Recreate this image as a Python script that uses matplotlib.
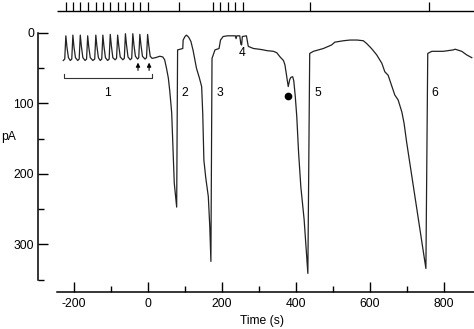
import matplotlib.pyplot as plt

plt.rcParams.update({
    "font.family": ["Liberation Sans", "DejaVu Sans"],
    "font.size": 8.7,
    "axes.unicode_minus": False,
    "axes.linewidth": 1.1,
    "xtick.direction": "in",
    "ytick.direction": "in",
})

# membrane current trace (time in s, current in pA, downward = inward)
t_trace = [
    -229, -225, -222, -219, -215, -210,
    -206, -203, -200, -196, -190,
    -186, -183, -180, -176, -170,
    -166, -163, -160, -156, -149,
    -144, -141, -138, -134, -129,
    -125, -122, -119, -115, -109,
    -105, -102, -99, -95, -89,
    -85, -82, -79, -75, -68,
    -64, -61, -58, -54, -48,
    -44, -41, -38, -34, -28,
    -25, -22, -19, -15, -8,
    -4, -1, 2, 6, 11,
    20, 32, 40, 45, 50, 55, 59, 64, 71, 77.5,
    80, 94, 95, 100, 104, 110, 116, 122, 131, 139, 145, 148, 151, 156, 163, 167, 170,
    173, 181, 192, 196, 203, 215, 226, 236, 238, 240, 248, 251, 253, 255, 266, 271,
    285, 300, 312, 321, 339, 348, 357, 366, 370, 375, 379, 383, 386, 391, 394, 398,
    402, 407, 413, 422, 432,
    437, 447, 474, 496, 505, 528, 546, 565, 582, 591, 604, 618, 632, 640, 649, 658,
    667, 676, 686, 692, 699, 712, 730, 744, 751,
    756, 767, 798, 825, 830, 848, 861, 875,
]
pa_trace = [
    39, 37, 4, 20, 35, 39,
    37, 3, 20, 35, 39,
    37, 3, 19, 35, 39,
    37, 4, 20, 35, 39,
    37, 3, 19, 35, 39,
    37, 3, 19, 35, 39,
    37, 2, 18, 35, 38,
    36, 3, 18, 34, 38,
    36, 1, 17, 34, 38,
    36, 1, 17, 33, 37,
    35, 2, 17, 33, 37,
    35, 2, 17, 33, 36,
    35, 33, 34, 38, 50, 64, 83, 113, 213, 247,
    24, 22, 10, 5, 3, 6, 12, 25, 50, 64, 76, 115, 180, 205, 232, 275, 324,
    36, 24, 22, 10, 5, 4, 4, 4, 8, 4, 4, 16, 17, 5, 4, 19,
    22, 23, 24, 25, 26, 28, 34, 39, 45, 62, 76, 66, 63, 62, 68, 90,
    118, 170, 218, 265, 341,
    29, 26, 22, 17, 13, 11, 10, 10, 11, 15, 22, 31, 43, 55, 60, 74,
    88, 95, 112, 128, 155, 200, 262, 310, 334,
    29, 26, 26, 24, 23, 26, 31, 35,
]

# stimulus / event marks on the top line
event_times = [-222, -203, -183, -163, -141, -122, -102, -82, -61, -41, -22, -1,
               84, 176, 195, 215, 235, 256, 438, 759]

labels = ["2", "3", "5", "6"]
label_t = [91, 186, 451, 765]
label_pa = 85
arrow_t = [-27, 3]
dot_t, dot_pa = 379, 90
bracket_t = [-227, 11]

fig = plt.figure(figsize=(4.74, 3.29), dpi=100)
ax = fig.add_axes([37.5 / 474, 37 / 329, 1 - 37.5 / 474, 1 - 37 / 329])
ax.set_xlim(-298.6, 881)
ax.set_ylim(367.4, -46.8)

ax.plot(t_trace, pa_trace, color="#222222", lw=0.9)

# event line
ax.hlines(-30.5, -246, 881, color="black", lw=1.0, clip_on=False)
ax.vlines(event_times, -30.5, -44.5, color="black", lw=0.9, clip_on=False)

# bracket "1" and arrows
ax.plot([bracket_t[0], bracket_t[0], bracket_t[1], bracket_t[1]], [58, 64, 64, 58],
        color="#333333", lw=0.8)
ax.text(-110, 85, "1", ha="center", va="center")
for at in arrow_t:
    ax.annotate("", xy=(at, 42), xytext=(at, 53),
                arrowprops=dict(arrowstyle="-|>", color="black", lw=0.8,
                                mutation_scale=6, shrinkA=0, shrinkB=0))
for lab, lt in zip(labels, label_t):
    ax.text(lt, label_pa, lab, ha="left", va="center")
ax.text(255, 29, "4", ha="center", va="center")
ax.plot([dot_t], [dot_pa], "o", color="black", ms=4.5)

for side in ["top", "right"]:
    ax.spines[side].set_visible(False)
ax.spines["left"].set_bounds(0, 350)
ax.spines["bottom"].set_bounds(-246, 881)

ax.set_xticks([-200, 0, 200, 400, 600, 800])
ax.set_xticks([-100, 100, 300, 500, 700], minor=True)
ax.set_yticks([0, 100, 200, 300])
ax.set_yticks([50, 150, 250, 350], minor=True)
ax.tick_params(which="major", length=7.5, width=1.0)
ax.tick_params(which="minor", length=4, width=1.0)
ax.tick_params(axis="x", pad=4)
ax.tick_params(axis="y", pad=2.5)

fig.text(9 / 474, 1 - 137 / 329, "pA", ha="center", va="center")
fig.text(262 / 474, 1 - 321 / 329, "Time (s)", ha="center", va="center")

fig.savefig("out.png", dpi=100)
